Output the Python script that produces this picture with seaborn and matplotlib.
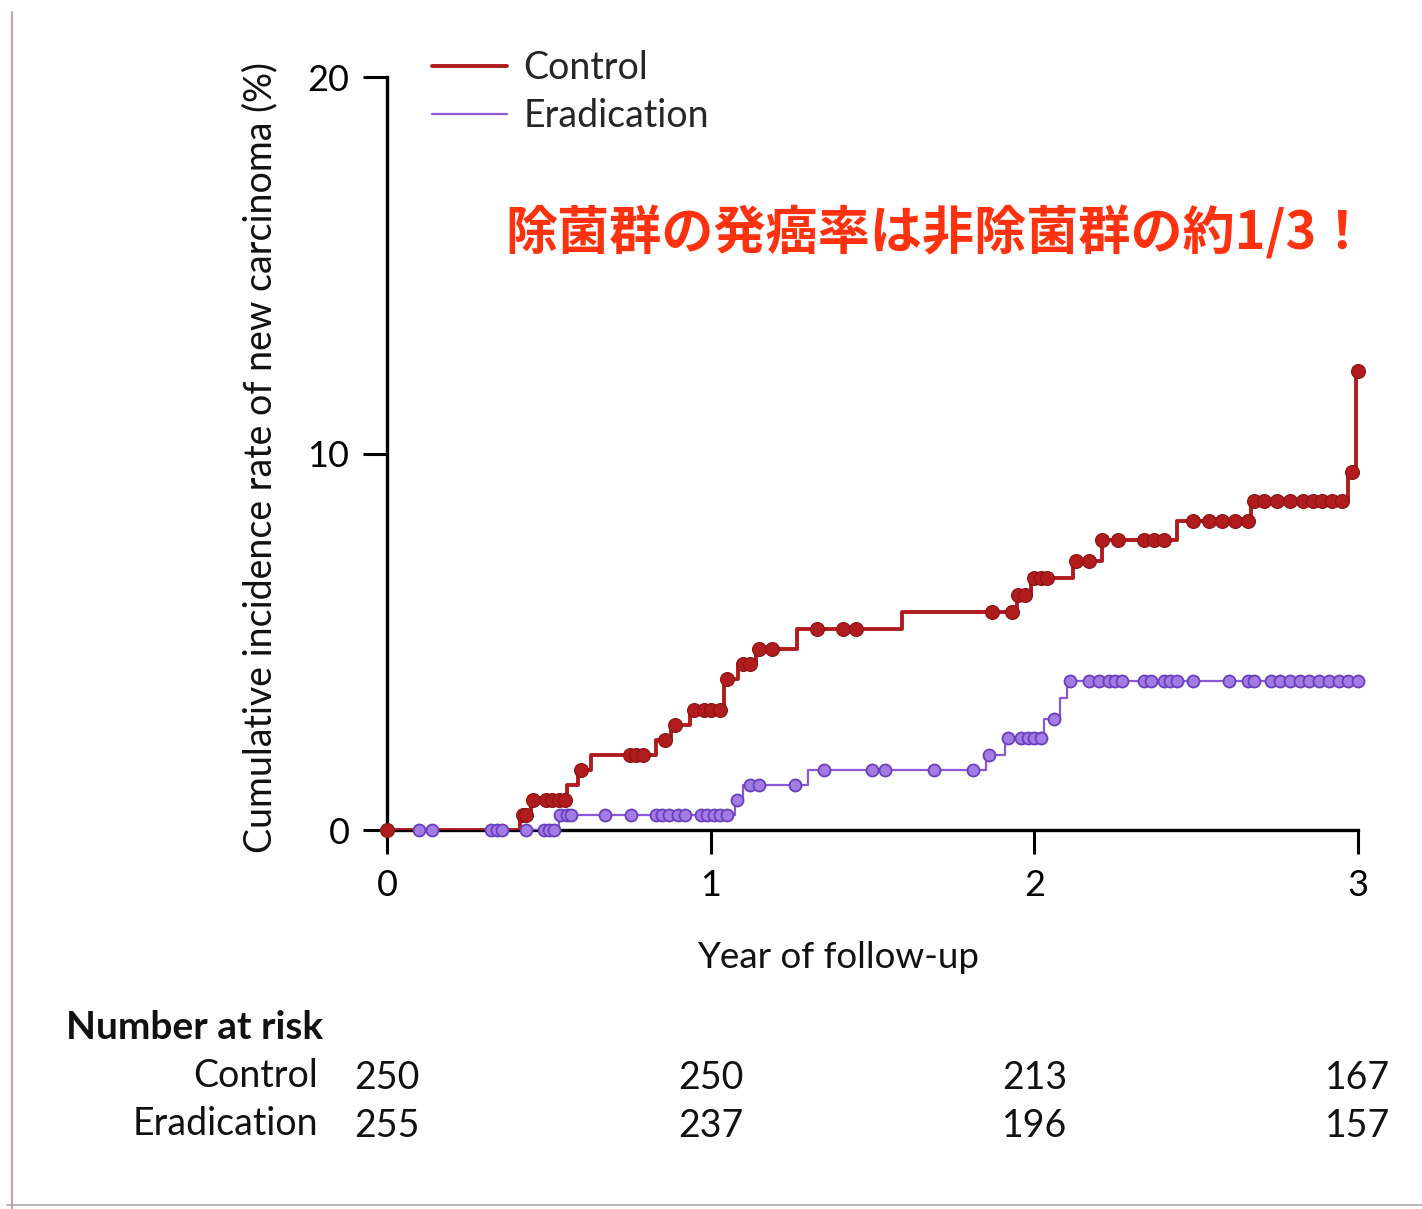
import numpy as np
import pandas as pd
import seaborn as sns
import matplotlib.pyplot as plt
from matplotlib.lines import Line2D
from matplotlib import transforms

# Kaplan-Meier steps (year, cumulative %)
ctrl_t = [0, 0.41, 0.445, 0.556, 0.589, 0.63, 0.83, 0.879, 0.937, 1.04, 1.086, 1.14, 1.266,
          1.59, 1.945, 1.99, 2.12, 2.21, 2.44, 2.67, 2.97, 2.995]
ctrl_y = [0, 0.4, 0.8, 1.2, 1.6, 2.0, 2.4, 2.8, 3.2, 4.0, 4.4, 4.8, 5.35,
          5.8, 6.25, 6.7, 7.15, 7.7, 8.2, 8.75, 9.5, 12.2]
erad_t = [0, 0.53, 1.075, 1.10, 1.30, 1.85, 1.91, 2.03, 2.08, 2.10, 3.0]
erad_y = [0, 0.4, 0.8, 1.2, 1.6, 2.0, 2.45, 2.95, 3.5, 3.95, 3.95]

# censoring marks (year)
ctrl_cens = [0.0, 0.42, 0.43, 0.45, 0.49, 0.51, 0.53, 0.55, 0.60, 0.75, 0.77, 0.79, 0.86,
             0.89, 0.95, 0.98, 1.00, 1.03, 1.05, 1.10, 1.12, 1.15, 1.19, 1.33, 1.41, 1.45,
             1.87, 1.93, 1.95, 1.97, 2.00, 2.02, 2.04, 2.13, 2.17, 2.21, 2.26, 2.34, 2.37,
             2.40, 2.49, 2.54, 2.58, 2.62, 2.66, 2.68, 2.71, 2.75, 2.79, 2.83, 2.86, 2.89,
             2.92, 2.95, 2.98, 3.0]
erad_cens = [0.10, 0.14, 0.32, 0.34, 0.355, 0.43, 0.485, 0.50, 0.515, 0.535, 0.555, 0.57,
             0.675, 0.754, 0.83, 0.85, 0.87, 0.90, 0.92, 0.97, 0.99, 1.01, 1.03, 1.05,
             1.08, 1.12, 1.15, 1.26, 1.35, 1.50, 1.54, 1.69, 1.81, 1.86, 1.92, 1.96, 1.98,
             2.00, 2.02, 2.06, 2.11, 2.17, 2.20, 2.23, 2.25, 2.27, 2.34, 2.36, 2.40, 2.42,
             2.44, 2.49, 2.60, 2.66, 2.68, 2.73, 2.76, 2.79, 2.82, 2.85, 2.88, 2.91, 2.94,
             2.97, 3.0]

risk_years = [0, 1, 2, 3]
risk_ctrl = [250, 250, 213, 167]
risk_erad = [255, 237, 196, 157]

red = '#b01c1e'
purple = '#8a5ad6'
fs = 26


def level_at(times, t_steps, y_steps):
    idx = np.searchsorted(t_steps, times, side='right') - 1
    return np.asarray(y_steps)[idx]


df_ctrl = pd.DataFrame({'year': ctrl_t, 'rate': ctrl_y})
df_erad = pd.DataFrame({'year': erad_t, 'rate': erad_y})
cens_ctrl = pd.DataFrame({'year': ctrl_cens, 'rate': level_at(ctrl_cens, ctrl_t, ctrl_y)})
cens_erad = pd.DataFrame({'year': erad_cens, 'rate': level_at(erad_cens, erad_t, erad_y)})

sns.set_theme(style='white')
plt.rcParams['font.family'] = ['Lato', 'DejaVu Sans']

fig = plt.figure(figsize=(14.22, 12.09), dpi=100)
ax = fig.add_axes([0.27215, 0.31348, 0.68284, 0.62283])

sns.lineplot(data=df_ctrl, x='year', y='rate', drawstyle='steps-post', color=red,
             linewidth=2.8, estimator=None, sort=False, label='Control', ax=ax, zorder=4)
sns.lineplot(data=df_erad, x='year', y='rate', drawstyle='steps-post', color=purple,
             linewidth=1.6, estimator=None, sort=False, label='Eradication', ax=ax, zorder=3)
sns.scatterplot(data=cens_ctrl, x='year', y='rate', color=red, s=100, edgecolor='#8a1214',
                linewidth=0.8, ax=ax, zorder=5, clip_on=False, legend=False)
sns.scatterplot(data=cens_erad, x='year', y='rate', color='#a27be3', s=75, edgecolor='#6a3fbf',
                linewidth=1.3, ax=ax, zorder=4, clip_on=False, legend=False)

ax.set_xlim(0, 3)
ax.set_ylim(0, 20)
ax.set_xticks([0, 1, 2, 3])
ax.set_yticks([0, 10, 20])
for s in ['top', 'right']:
    ax.spines[s].set_visible(False)
for s in ['left', 'bottom']:
    ax.spines[s].set_color('black')
    ax.spines[s].set_linewidth(2.4)
ax.tick_params(bottom=True, left=True, direction='out', length=17, width=2.2,
               colors='black', labelsize=fs)
ax.tick_params(axis='x', pad=11)
ax.tick_params(axis='y', pad=10)

ax.set_xlabel('Year of follow-up', fontsize=fs + 0.5, color='#111111')
ax.xaxis.set_label_coords(0.464, -0.148)
ax.set_ylabel('Cumulative incidence rate of new carcinoma (%)', fontsize=fs + 1,
              color='#111111')
ax.yaxis.set_label_coords(-0.112, 0.495)

ax.legend(loc='upper left', bbox_to_anchor=(0.046, 1.036), frameon=False, fontsize=fs + 1,
          handlelength=2.0, handletextpad=0.45, labelspacing=0.32, borderpad=0,
          borderaxespad=0)

ax.text(0.1215, 0.792, '除菌群の発癌率は非除菌群の約1/3！', transform=ax.transAxes,
        fontsize=37.5, color='#ff3210', fontweight='bold', va='center', ha='left',
        family=['Noto Sans CJK JP', 'DejaVu Sans'])

# number at risk table
trans = transforms.blended_transform_factory(ax.transData, ax.transAxes)
ax.text(-0.3306, -0.262, 'Number at risk', transform=ax.transAxes, fontsize=fs + 2,
        fontweight='bold', ha='left', va='center', color='#111111')
ax.text(-0.071, -0.327, 'Control', transform=ax.transAxes, fontsize=fs + 1, ha='right',
        va='center', color='#111111')
ax.text(-0.071, -0.391, 'Eradication', transform=ax.transAxes, fontsize=fs + 1, ha='right',
        va='center', color='#111111')
for yr, c, e in zip(risk_years, risk_ctrl, risk_erad):
    ax.text(yr, -0.329, str(c), transform=trans, fontsize=fs + 1, ha='center', va='center',
            color='#111111')
    ax.text(yr, -0.393, str(e), transform=trans, fontsize=fs + 1, ha='center', va='center',
            color='#111111')

# scanned page edges
fig.add_artist(Line2D([12 / 1422, 12 / 1422], [0, 0.99], transform=fig.transFigure,
                      color='#d08a96', linewidth=1.2))
fig.add_artist(Line2D([0.005, 1], [4 / 1209, 4 / 1209], transform=fig.transFigure,
                      color='#b0a8a8', linewidth=1.2))

fig.savefig('out.png', dpi=100, facecolor='white')
